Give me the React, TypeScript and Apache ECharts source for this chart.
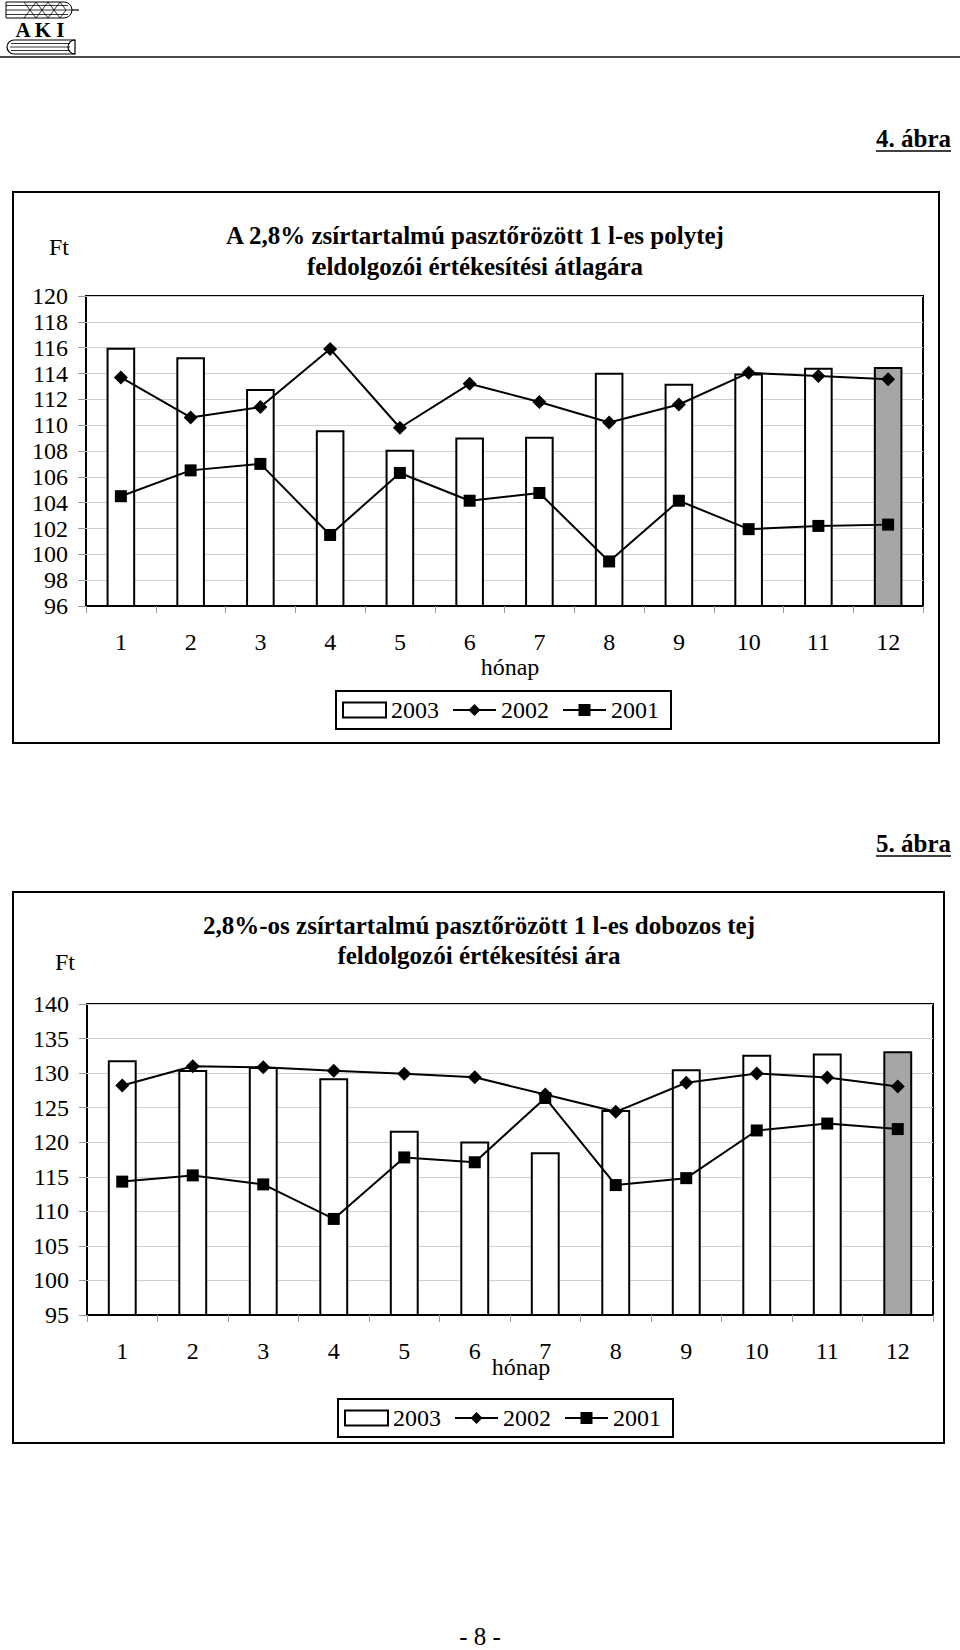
import React, { useEffect, useRef } from "react";
import * as echarts from "echarts";

const months = ["1", "2", "3", "4", "5", "6", "7", "8", "9", "10", "11", "12"];
const seriesNames = ["2003", "2002", "2001"];

// 4. ábra – polytej (Ft)
const c1y2003 = [116.0, 115.25, 112.8, 109.6, 108.1, 109.05, 109.1, 114.05, 113.2, 114.0, 114.45, 114.5];
const c1y2002 = [113.7, 110.6, 111.4, 115.9, 109.8, 113.2, 111.8, 110.2, 111.6, 114.05, 113.8, 113.55];
const c1y2001 = [104.5, 106.5, 107.0, 101.5, 106.3, 104.15, 104.75, 99.45, 104.15, 101.95, 102.2, 102.3];
const c1Axis = { min: 96, max: 120, interval: 2 };

// 5. ábra – dobozos tej (Ft)
const c2y2003 = [131.85, 130.45, 130.9, 129.25, 121.65, 120.1, 118.55, 124.65, 130.55, 132.65, 132.85, 133.15];
const c2y2002 = [128.2, 131.0, 130.85, 130.35, 129.9, 129.4, 126.9, 124.4, 128.6, 129.95, 129.35, 128.05];
const c2y2001 = [114.3, 115.2, 113.9, 108.9, 117.8, 117.1, 126.4, 113.8, 114.8, 121.7, 122.7, 121.9];
const c2Axis = { min: 95, max: 140, interval: 5 };

const title1 = ["A 2,8% zsírtartalmú pasztőrözött 1 l-es polytej", "feldolgozói értékesítési átlagára"];
const title2 = ["2,8%-os zsírtartalmú pasztőrözött 1 l-es dobozos tej", "feldolgozói értékesítési ára"];

const FONT = "'Liberation Serif', 'Times New Roman', serif";
const FS = 24;

function txt(text: string, x: number, y: number, size: number, bold: boolean, align = "center", valign = "middle") {
  return {
    type: "text",
    style: {
      text,
      x,
      y,
      font: `${bold ? "bold " : ""}${size}px ${FONT}`,
      fill: "#000",
      align,
      verticalAlign: valign,
      textAlign: align,
      textVerticalAlign: valign,
    },
  };
}

function ln(x1: number, y1: number, x2: number, y2: number, w = 1, c = "#000") {
  return { type: "line", shape: { x1, y1, x2, y2 }, style: { stroke: c, lineWidth: w } };
}

function barData(arr: number[]) {
  return arr.map((v, i) => (i === arr.length - 1 ? { value: v, itemStyle: { color: "#a6a6a6" } } : v));
}

function makeSeries(idx: number, y03: number[], y02: number[], y01: number[]) {
  return [
    {
      name: seriesNames[0],
      type: "bar",
      xAxisIndex: idx,
      yAxisIndex: idx,
      data: barData(y03),
      barWidth: "41%",
      itemStyle: { color: "#fff", borderColor: "#000", borderWidth: 2 },
    },
    {
      name: seriesNames[1],
      type: "line",
      xAxisIndex: idx,
      yAxisIndex: idx,
      data: y02,
      symbol: "diamond",
      symbolSize: 14,
      itemStyle: { color: "#000" },
      lineStyle: { color: "#000", width: 2 },
      z: 3,
    },
    {
      name: seriesNames[2],
      type: "line",
      xAxisIndex: idx,
      yAxisIndex: idx,
      data: y01,
      symbol: "rect",
      symbolSize: 12,
      itemStyle: { color: "#000" },
      lineStyle: { color: "#000", width: 2 },
      z: 4,
    },
  ];
}

function xAxisCfg(idx: number, shiftPad: number, nameGap: number) {
  return {
    type: "category",
    gridIndex: idx,
    data: months,
    boundaryGap: true,
    axisLine: { show: true, lineStyle: { color: "#000", width: 2 } },
    axisTick: { show: true, length: 7, interval: 0, lineStyle: { color: "#999" } },
    axisLabel: { color: "#000", fontSize: FS, fontFamily: FONT, margin: 24, interval: 0 },
    name: "hónap",
    nameLocation: "middle",
    nameGap,
    nameMoveOverlap: false,
    nameTextStyle: { color: "#000", fontSize: FS, fontFamily: FONT, padding: [0, 0, 0, shiftPad] },
  };
}

function yAxisCfg(idx: number, ax: { min: number; max: number; interval: number }) {
  return {
    type: "value",
    gridIndex: idx,
    min: ax.min,
    max: ax.max,
    interval: ax.interval,
    axisLine: { show: false },
    axisTick: { show: true, length: 8, lineStyle: { color: "#999" } },
    axisLabel: { color: "#000", fontSize: FS, fontFamily: FONT, margin: 18 },
    splitLine: { show: true, lineStyle: { color: "#cfcfcf", width: 1 } },
  };
}

function legendCfg(left: number, top: number) {
  return {
    left,
    top,
    orient: "horizontal",
    data: [{ name: "2003", icon: "rect" }, { name: "2002" }, { name: "2001" }],
    itemWidth: 43,
    itemHeight: 15,
    itemGap: 13,
    borderColor: "#000",
    borderWidth: 2,
    padding: [7, 12, 7, 6],
    textStyle: { color: "#000", fontSize: FS, fontFamily: FONT },
    selectedMode: false,
  };
}

export default function App() {
  const ref = useRef<HTMLDivElement>(null);
  useEffect(() => {
    if (!ref.current) return;
    const chart = echarts.init(ref.current, undefined, { renderer: "svg" });
    const logo = [
      // wheat strands
      { type: "rect", shape: { x: 6, y: 2, width: 66, height: 16, r: [0, 8, 8, 0] }, style: { fill: "none", stroke: "#000", lineWidth: 1 } },
      ln(6, 5.5, 68, 5.5, 0.8),
      ln(6, 10, 72, 10, 0.8),
      ln(6, 14.5, 68, 14.5, 0.8),
      ln(72, 10, 79, 10, 1.2),
      { type: "polyline", shape: { points: [[24, 2], [30, 10], [36, 2], [42, 10], [48, 2], [54, 10], [60, 2], [66, 10]] }, style: { fill: "none", stroke: "#000", lineWidth: 0.8 } },
      { type: "polyline", shape: { points: [[24, 18], [30, 10], [36, 18], [42, 10], [48, 18], [54, 10], [60, 18], [66, 10]] }, style: { fill: "none", stroke: "#000", lineWidth: 0.8 } },
      txt("A K I", 40, 30, 21, true),
      // book
      { type: "rect", shape: { x: 7, y: 40, width: 68, height: 14, r: [7, 0, 0, 7] }, style: { fill: "none", stroke: "#000", lineWidth: 1.2 } },
      ln(11, 43.5, 70, 43.5, 0.8),
      ln(10, 47, 70, 47, 0.8),
      ln(11, 50.5, 70, 50.5, 0.8),
      { type: "arc", shape: { cx: 75, cy: 47, r: 7, startAngle: Math.PI / 2, endAngle: (3 * Math.PI) / 2 }, style: { fill: "none", stroke: "#000", lineWidth: 1.2 } },
    ];
    const option: any = {
      animation: false,
      backgroundColor: "#fff",
      textStyle: { fontFamily: FONT, color: "#000" },
      grid: [
        { left: 86, top: 296, width: 837, height: 310, show: true, borderColor: "#000", borderWidth: 2, containLabel: false },
        { left: 87, top: 1004, width: 846, height: 311, show: true, borderColor: "#000", borderWidth: 2, containLabel: false },
      ],
      xAxis: [xAxisCfg(0, 11, 49), xAxisCfg(1, 22, 40)],
      yAxis: [yAxisCfg(0, c1Axis), yAxisCfg(1, c2Axis)],
      legend: [legendCfg(336, 691), legendCfg(338, 1399)],
      series: [...makeSeries(0, c1y2003, c1y2002, c1y2001), ...makeSeries(1, c2y2003, c2y2002, c2y2001)],
      graphic: [
        ...logo,
        ln(0, 57, 960, 57, 1.5, "#111"),
        txt("4. ábra", 951, 138, 25, true, "right"),
        ln(876, 151, 951, 151, 1.5),
        { type: "rect", shape: { x: 13, y: 192, width: 926, height: 551 }, style: { fill: "none", stroke: "#000", lineWidth: 2 } },
        txt(title1[0], 475, 235, 25, true),
        txt(title1[1], 475, 266, 25, true),
        txt("Ft", 59, 247, FS, false),
        txt("5. ábra", 951, 843, 25, true, "right"),
        ln(876, 856, 951, 856, 1.5),
        { type: "rect", shape: { x: 13, y: 892, width: 931, height: 551 }, style: { fill: "none", stroke: "#000", lineWidth: 2 } },
        txt(title2[0], 479, 925, 25, true),
        txt(title2[1], 479, 955, 25, true),
        txt("Ft", 65, 962, FS, false),
        txt("- 8 -", 480, 1649, 25, false, "center", "bottom"),
      ],
    };
    chart.setOption(option);
    return () => chart.dispose();
  }, []);
  return <div ref={ref} style={{ position: "absolute", left: 0, top: 0, width: 960, height: 1650 }} />;
}
